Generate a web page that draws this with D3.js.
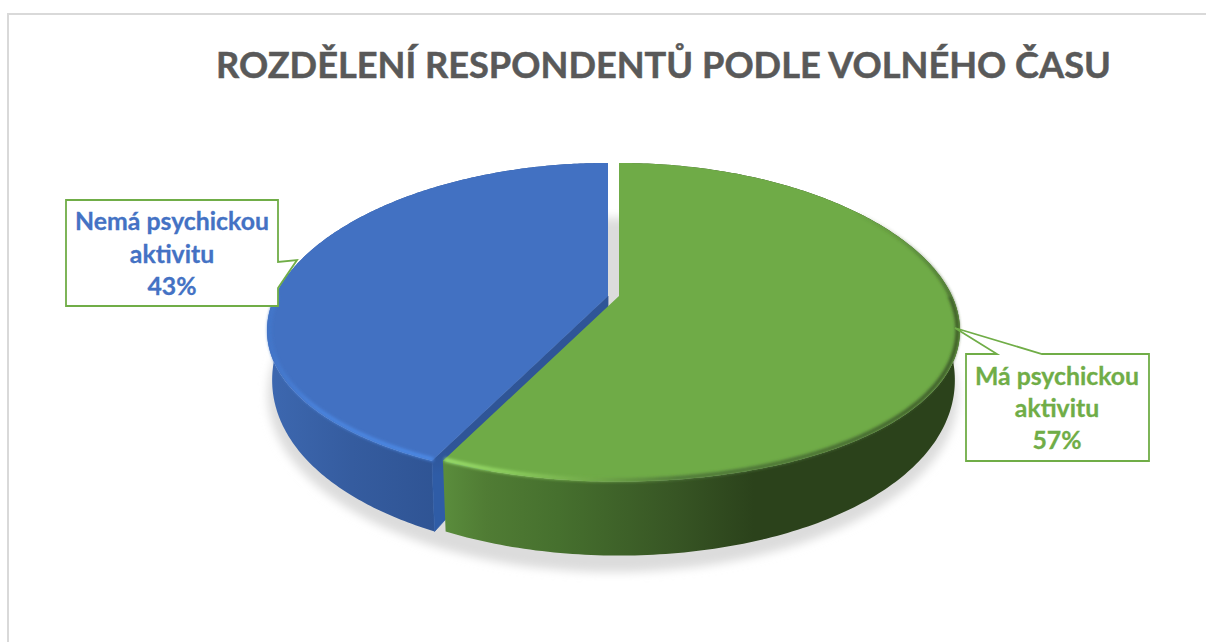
<!DOCTYPE html>
<html>
<head>
<meta charset="utf-8">
<script src="https://cdn.jsdelivr.net/npm/d3@7/dist/d3.min.js"></script>
<style>
html,body{margin:0;padding:0;background:#fff}
svg{display:block}
</style>
</head>
<body>
<svg id="chart" width="1206" height="642"></svg>
<script>
const chartTitle = "ROZDĚLENÍ RESPONDENTŮ PODLE VOLNÉHO ČASU";
const categories = ["Má psychickou aktivitu", "Nemá psychickou aktivitu"];
const shares = [57, 43];
const labelLines = [["Má psychickou", "aktivitu", "57%"], ["Nemá psychickou", "aktivitu", "43%"]];

const svg = d3.select("#chart");
const defs = svg.append("defs");

defs.append("filter").attr("id", "soft").attr("x", "-10%").attr("y", "-10%").attr("width", "120%").attr("height", "120%")
  .append("feGaussianBlur").attr("stdDeviation", 5);
defs.append("filter").attr("id", "bevel").attr("x", "-10%").attr("y", "-10%").attr("width", "120%").attr("height", "120%")
  .append("feGaussianBlur").attr("stdDeviation", 1.7);

function hGradient(id, x1, x2, stops) {
  const g = defs.append("linearGradient").attr("id", id)
    .attr("gradientUnits", "userSpaceOnUse")
    .attr("x1", x1).attr("x2", x2).attr("y1", 0).attr("y2", 0);
  stops.forEach(([o, c]) => g.append("stop").attr("offset", o).attr("stop-color", c));
}
hGradient("wall0", 445, 960, [[0, "#5a8c3c"], [0.08, "#507c34"], [0.22, "#46702e"], [0.45, "#375524"], [0.6, "#2b421b"], [1, "#2b421b"]]);
hGradient("rim0", 445, 960, [[0, "#9ade6c"], [0.12, "#8ed05f"], [0.3, "#6fa648"], [0.45, "#50783a"], [0.7, "#4a7034"], [1, "#3c5a28"]]);
hGradient("wall1", 267, 437, [[0, "#3d68b0"], [0.5, "#355c9f"], [1, "#2f5494"]]);
hGradient("rim1", 267, 437, [[0, "#4275c8"], [0.3, "#4a84de"], [1, "#4d8ae6"]]);

const faceFill = defs.append("linearGradient").attr("id", "face")
  .attr("gradientUnits", "userSpaceOnUse").attr("x1", 0).attr("x2", 0).attr("y1", 450).attr("y2", 475);
faceFill.append("stop").attr("offset", 0).attr("stop-color", "#2f5597");
faceFill.append("stop").attr("offset", 1).attr("stop-color", "#2f5ca6");

// The bevel dies away towards the back of the disc.
const fadeRim = defs.append("linearGradient").attr("id", "fadeRim")
  .attr("gradientUnits", "userSpaceOnUse").attr("x1", 0).attr("x2", 0).attr("y1", 205).attr("y2", 330);
fadeRim.append("stop").attr("offset", 0).attr("stop-color", "#3c5a28").attr("stop-opacity", 0);
fadeRim.append("stop").attr("offset", 1).attr("stop-color", "#3c5a28").attr("stop-opacity", 1);

// Perspective of the disc: u runs left to right, v from back to front.
const tiltX = 0.215;
const tiltY = 0.165;
const xScale = d3.scaleLinear().domain([-1, 1]).range([-333, 333]);
const topScale = d3.scaleLinear().domain([-1, 1]).range([-155, 155]);
const baseScale = d3.scaleLinear().domain([-1, 1]).range([-180, 180]);
const shrink = 0.985;
const centreTopY = 296;
const centreBaseY = 340;
const explodeX = [619, 608];

const project = (x0, level) => (r, a) => {
  const u = r * Math.sin(a), v = -r * Math.cos(a);
  const wx = 1 - tiltX * v, wy = 1 - tiltY * v;
  return level === "top"
    ? [x0 + xScale(u) / wx, centreTopY + topScale(v) / wy]
    : [x0 + shrink * xScale(u) / wx, centreBaseY + baseScale(v) / wy];
};

const angles = d3.pie().sort(null).value(d => d)(shares);
const line = d3.line();
const sweep = (a0, a1) => d3.range(0, 241).map(i => a0 + (a1 - a0) * i / 240);

// Ground shadow behind the disc
svg.append("ellipse").attr("cx", 613).attr("cy", 395).attr("rx", 345).attr("ry", 177)
  .attr("fill", "#dcdcdc").attr("filter", "url(#soft)");

// Chart frame
svg.append("path").attr("d", line([[1206, 14], [8, 14], [8, 642]]))
  .attr("fill", "none").attr("stroke", "#d9d9d9").attr("stroke-width", 2);

svg.append("text").attr("x", 663.5).attr("y", 78).attr("text-anchor", "middle")
  .attr("font-family", "Lato").attr("font-weight", 700).attr("font-size", 36.2)
  .attr("fill", "#595959").attr("stroke", "#595959").attr("stroke-width", 0.5).text(chartTitle);

// Slices are painted back to front: the blue one sits behind the green one.
[1, 0].forEach(i => {
  const d = angles[i];
  const top = project(explodeX[i], "top");
  const base = project(explodeX[i], "base");
  const g = svg.append("g").attr("class", "slice").attr("data-name", categories[i]);

  // Outer wall; the top surface hides whatever faces away
  const arc = sweep(d.startAngle, d.endAngle);
  g.append("path")
    .attr("d", line(arc.map(a => top(1, a)).concat(arc.slice().reverse().map(a => base(1, a)))) + "Z")
    .attr("fill", `url(#wall${i})`);

  if (i === 1) {
    // Cut face exposed by pulling the slices apart
    g.append("path")
      .attr("d", line([top(0, 0), top(1, d.startAngle), base(1, d.startAngle), base(0, 0)]) + "Z")
      .attr("fill", "url(#face)").attr("stroke", "url(#face)").attr("stroke-width", 0.8);
  }

  // Top surface
  g.append("path")
    .attr("d", line([top(0, 0)].concat(arc.map(a => top(1, a)))) + "Z")
    .attr("fill", i === 0 ? "#6fab47" : "#4271c2");

  // Bevel along the front rim
  const bevelStart = Math.max(d.startAngle, Math.PI * 0.5);
  const bevelEnd = Math.min(d.endAngle, Math.PI * 1.5);
  g.append("path")
    .attr("d", line(sweep(bevelStart, bevelEnd).map(a => top(0.993, a))))
    .attr("fill", "none").attr("stroke", `url(#rim${i})`)
    .attr("stroke-width", 4).attr("filter", "url(#bevel)");

  if (i === 0) {
    // Shaded shoulder where the rim turns away on the right
    g.append("path")
      .attr("d", line(sweep(Math.PI * 0.3, Math.PI * 0.5).map(a => top(0.995, a))))
      .attr("fill", "none").attr("stroke", "url(#fadeRim)")
      .attr("stroke-width", 3.5).attr("filter", "url(#bevel)");
  }
});

// Callouts
const callouts = [
  { box: [966, 354, 1149, 461], tip: [[997, 354], [955, 328], [1042, 354]], side: "top", cx: 1057, base: [385, 417, 449] },
  { box: [66, 200, 278, 306], tip: [[278, 262], [297, 260], [278, 288]], side: "right", cx: 172, base: [230, 263, 295] }
];
const labelColor = ["#70ad47", "#4472c4"];

callouts.forEach((c, i) => {
  const [x0, y0, x1, y1] = c.box;
  const pts = c.side === "top"
    ? [[x0, y0], ...c.tip, [x1, y0], [x1, y1], [x0, y1]]
    : [[x0, y0], [x1, y0], ...c.tip, [x1, y1], [x0, y1]];
  svg.append("path").attr("d", line(pts) + "Z")
    .attr("fill", "#fff").attr("stroke", "#70ad47").attr("stroke-width", 1.8);
  labelLines[i].forEach((t, k) => {
    svg.append("text").attr("x", c.cx).attr("y", c.base[k]).attr("text-anchor", "middle")
      .attr("font-family", "Lato").attr("font-weight", 700).attr("font-size", 24.8)
      .attr("fill", labelColor[i]).attr("stroke", labelColor[i]).attr("stroke-width", 0.3).text(t);
  });
});
</script>
</body>
</html>
